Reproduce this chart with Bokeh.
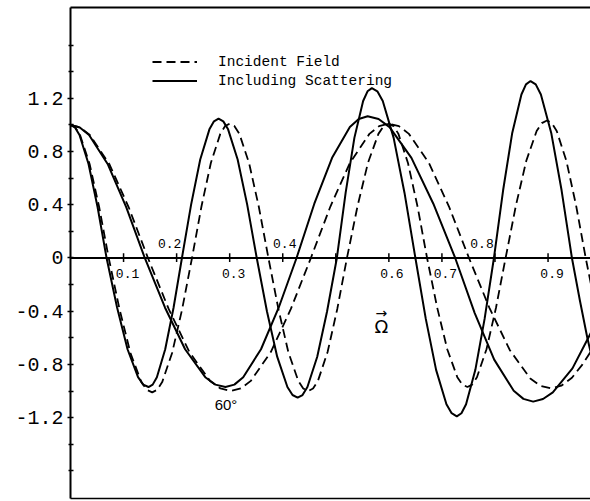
from bokeh.plotting import figure
from bokeh.models import Range1d, LinearAxis, FixedTicker, Span, Label, Legend, LegendItem, ColumnDataSource
from bokeh.embed import file_html
from bokeh.resources import INLINE
from bokeh.core.properties import value

# ---- data ----
fs_x = [0, 0.0085, 0.017, 0.034, 0.051, 0.068,
        0.0878, 0.1075, 0.1273, 0.1371, 0.147,
        0.1549, 0.1628, 0.1785, 0.1943, 0.210,
        0.2273, 0.2445, 0.2618, 0.2704, 0.279,
        0.288, 0.297, 0.315, 0.333, 0.351,
        0.3703, 0.3895, 0.4088, 0.4184, 0.428,
        0.4373, 0.4465, 0.465, 0.4835, 0.502,
        0.5185, 0.535, 0.5515, 0.5598, 0.568,
        0.5783, 0.5885, 0.609, 0.6295, 0.650,
        0.6695, 0.689, 0.7085, 0.7183, 0.728,
        0.7368, 0.7455, 0.763, 0.7805, 0.798,
        0.8153, 0.8325, 0.8498, 0.8584, 0.867,
        0.8768, 0.8865, 0.906, 0.9255, 0.945,
        0.960, 0.974, 0.981]
fs_y = [1.0, 0.981, 0.924, 0.707, 0.383, 0.0,
        -0.372, -0.686, -0.896, -0.952, -0.97,
        -0.952, -0.896, -0.686, -0.372, 0.0,
        0.401, 0.740, 0.967, 1.027, 1.047,
        1.027, 0.967, 0.740, 0.401, 0.0,
        -0.402, -0.742, -0.970, -1.030, -1.05,
        -1.030, -0.970, -0.742, -0.402, 0.0,
        0.489, 0.903, 1.180, 1.253, 1.277,
        1.253, 1.180, 0.903, 0.489, 0.0,
        -0.456, -0.841, -1.100, -1.167, -1.19,
        -1.167, -1.100, -0.841, -0.456, 0.0,
        0.509, 0.940, 1.229, 1.305, 1.33,
        1.305, 1.229, 0.940, 0.509, 0.0,
        -0.32, -0.60, -0.72]

fd_x = [0, 0.009, 0.018, 0.036, 0.054, 0.072,
        0.0925, 0.113, 0.1335, 0.1438, 0.154,
        0.1634, 0.1728, 0.1915, 0.2103, 0.229,
        0.2468, 0.2645, 0.2823, 0.2911, 0.300,
        0.3091, 0.3183, 0.3365, 0.3548, 0.373,
        0.3918, 0.4105, 0.4293, 0.4386, 0.448,
        0.4571, 0.4663, 0.4845, 0.5028, 0.521,
        0.5408, 0.5605, 0.5803, 0.5901, 0.600,
        0.609, 0.618, 0.636, 0.654, 0.672,
        0.691, 0.710, 0.729, 0.7385, 0.748,
        0.757, 0.766, 0.784, 0.802, 0.820,
        0.8395, 0.859, 0.8785, 0.8883, 0.898,
        0.9071, 0.9163, 0.9345, 0.9528, 0.971,
        0.981]
fd_y = [1.0, 0.981, 0.924, 0.707, 0.383, 0.0,
        -0.387, -0.714, -0.933, -0.991, -1.01,
        -0.991, -0.933, -0.714, -0.387, 0.0,
        0.387, 0.714, 0.933, 0.991, 1.01,
        0.991, 0.933, 0.714, 0.387, 0.0,
        -0.383, -0.707, -0.924, -0.981, -1.0,
        -0.981, -0.924, -0.707, -0.383, 0.0,
        0.387, 0.714, 0.933, 0.991, 1.01,
        0.991, 0.933, 0.714, 0.387, 0.0,
        -0.372, -0.686, -0.896, -0.952, -0.97,
        -0.952, -0.896, -0.686, -0.372, 0.0,
        0.396, 0.731, 0.955, 1.014, 1.034,
        1.014, 0.955, 0.731, 0.396, 0.0,
        -0.2]

ss_x = [0, 0.0175, 0.035, 0.070, 0.105, 0.140,
        0.178, 0.216, 0.254, 0.273, 0.292,
        0.3088, 0.3255, 0.359, 0.3925, 0.426,
        0.4595, 0.493, 0.5265, 0.5433, 0.560,
        0.5806, 0.6013, 0.6425, 0.6838, 0.725,
        0.7618, 0.7985, 0.8353, 0.8536, 0.872,
        0.8905, 0.909, 0.946, 0.981]
ss_y = [1.0, 0.981, 0.924, 0.707, 0.383, 0.0,
        -0.372, -0.686, -0.896, -0.952, -0.97,
        -0.952, -0.896, -0.686, -0.372, 0.0,
        0.408, 0.753, 0.984, 1.045, 1.065,
        1.045, 0.984, 0.753, 0.408, 0.0,
        -0.414, -0.764, -0.998, -1.059, -1.08,
        -1.06, -1.01, -0.83, -0.56]

sd_x = [0, 0.0183, 0.0365, 0.073, 0.1095, 0.146,
        0.185, 0.224, 0.263, 0.2825, 0.302,
        0.3209, 0.3398, 0.3775, 0.4153, 0.453,
        0.4898, 0.5265, 0.5633, 0.5816, 0.600,
        0.6189, 0.6378, 0.6755, 0.7133, 0.751,
        0.7895, 0.828, 0.8665, 0.8858, 0.905,
        0.925, 0.945, 0.965, 0.981]
sd_y = [1.0, 0.981, 0.924, 0.707, 0.383, 0.0,
        -0.383, -0.707, -0.924, -0.981, -1.0,
        -0.981, -0.924, -0.707, -0.383, 0.0,
        0.387, 0.714, 0.933, 0.991, 1.01,
        0.991, 0.933, 0.714, 0.387, 0.0,
        -0.375, -0.693, -0.906, -0.961, -0.98,
        -0.96, -0.90, -0.80, -0.70]

ytick_values = [-1.2, -0.8, -0.4, 0.0, 0.4, 0.8, 1.2]
ytick_labels = ["-1.2", "-0.8", "-0.4", "0", "0.4", "0.8", "1.2"]
yminor_values = [-1.6, -1.4, -1.0, -0.6, -0.2, 0.2, 0.6, 1.0, 1.4, 1.6]

xtick_values = [0.1, 0.2, 0.3, 0.4, 0.5, 0.6, 0.7, 0.8, 0.9]
xlab_below_pos = [0.1, 0.3, 0.6, 0.7, 0.9]
xlab_below = ["0.1", "0.3", "0.6", "0.7", "0.9"]
xlab_above_pos = [0.2, 0.4, 0.8]
xlab_above = ["0.2", "0.4", "0.8"]

legend_labels = ["Incident Field", "Including Scattering"]

# ---- styles ----
below_xoff = [4, 4, 3, 3.5, 4]
above_xoff = [-7, 2, -13]

p = figure(width=590, height=501,
           x_range=Range1d(0, 0.980), y_range=Range1d(-1.808, 1.883),
           output_backend="svg", toolbar_location=None,
           x_axis_location=None, y_axis_location="left",
           min_border_left=70, min_border_right=0,
           min_border_top=7, min_border_bottom=3)
p.grid.visible = False
p.outline_line_color = None
p.background_fill_color = "white"
p.border_fill_color = "white"

ya = p.yaxis[0]
ya.ticker = FixedTicker(ticks=ytick_values, minor_ticks=yminor_values)
ya.major_label_overrides = {v: l for v, l in zip(ytick_values, ytick_labels)}
ya.major_label_text_font = "Liberation Mono"
ya.major_label_text_font_size = "20px"
ya.major_label_text_color = "black"
ya.major_label_standoff = 4
ya.axis_line_width = 2
ya.axis_line_color = "black"
ya.major_tick_in = 3
ya.major_tick_out = 3
ya.minor_tick_in = 3
ya.minor_tick_out = 2
ya.major_tick_line_width = 1.5
ya.minor_tick_line_width = 1.5

for loc, lw in (("above", 2), ("below", 1.5)):
    ax = LinearAxis(ticker=FixedTicker(ticks=[]), major_label_text_font_size="0px",
                    major_tick_in=0, major_tick_out=0, minor_tick_in=0, minor_tick_out=0,
                    major_label_standoff=0, axis_line_width=lw, axis_line_color="black")
    p.add_layout(ax, loc)

p.add_layout(Span(location=0, dimension="width", line_color="black", line_width=1.8))
p.segment(x0=xtick_values, y0=[-0.03] * len(xtick_values),
          x1=xtick_values, y1=[0.035] * len(xtick_values),
          line_color="black", line_width=1.5)

src_b = ColumnDataSource(dict(x=xlab_below_pos, y=[0] * len(xlab_below_pos), t=xlab_below, xo=below_xoff))
src_a = ColumnDataSource(dict(x=xlab_above_pos, y=[0] * len(xlab_above_pos), t=xlab_above, xo=above_xoff))
p.text(x="x", y="y", text="t", x_offset="xo", y_offset=15.5, source=src_b,
       text_font=value("Liberation Mono"), text_font_size="13px",
       text_align="center", text_baseline="middle", text_color="black")
p.text(x="x", y="y", text="t", x_offset="xo", y_offset=-14.5, source=src_a,
       text_font=value("Liberation Mono"), text_font_size="13px",
       text_align="center", text_baseline="middle", text_color="black")

dash = "9 5"
r_fd = p.line(fd_x, fd_y, line_color="black", line_width=1.8, line_dash=dash)
r_fs = p.line(fs_x, fs_y, line_color="black", line_width=2)
p.line(sd_x, sd_y, line_color="black", line_width=1.8, line_dash=dash)
p.line(ss_x, ss_y, line_color="black", line_width=2)

legend = Legend(items=[LegendItem(label=legend_labels[0], renderers=[r_fd]),
                       LegendItem(label=legend_labels[1], renderers=[r_fs])],
                location=(82, 408), padding=0, margin=0, spacing=0,
                glyph_width=45, glyph_height=19, label_height=19, label_standoff=21,
                label_text_font="Liberation Mono", label_text_font_size="14.5px",
                label_text_color="black",
                border_line_color=None, background_fill_alpha=0)
p.add_layout(legend)

p.add_layout(Label(x=0.293, y=-1.10, text="60°", text_font="Liberation Sans",
                   text_font_size="15px", text_align="center", text_baseline="middle",
                   text_color="black"))
p.add_layout(Label(x=0.586, y=-0.515, text="Ω", text_font="DejaVu Sans",
                   text_font_size="18px", text_align="center", text_baseline="middle",
                   text_color="black"))
p.add_layout(Label(x=0.586, y=-0.41, text="→", text_font="DejaVu Sans",
                   text_font_size="14px", text_align="center", text_baseline="middle",
                   text_color="black"))

open("out.html", "w").write(file_html(p, INLINE))
